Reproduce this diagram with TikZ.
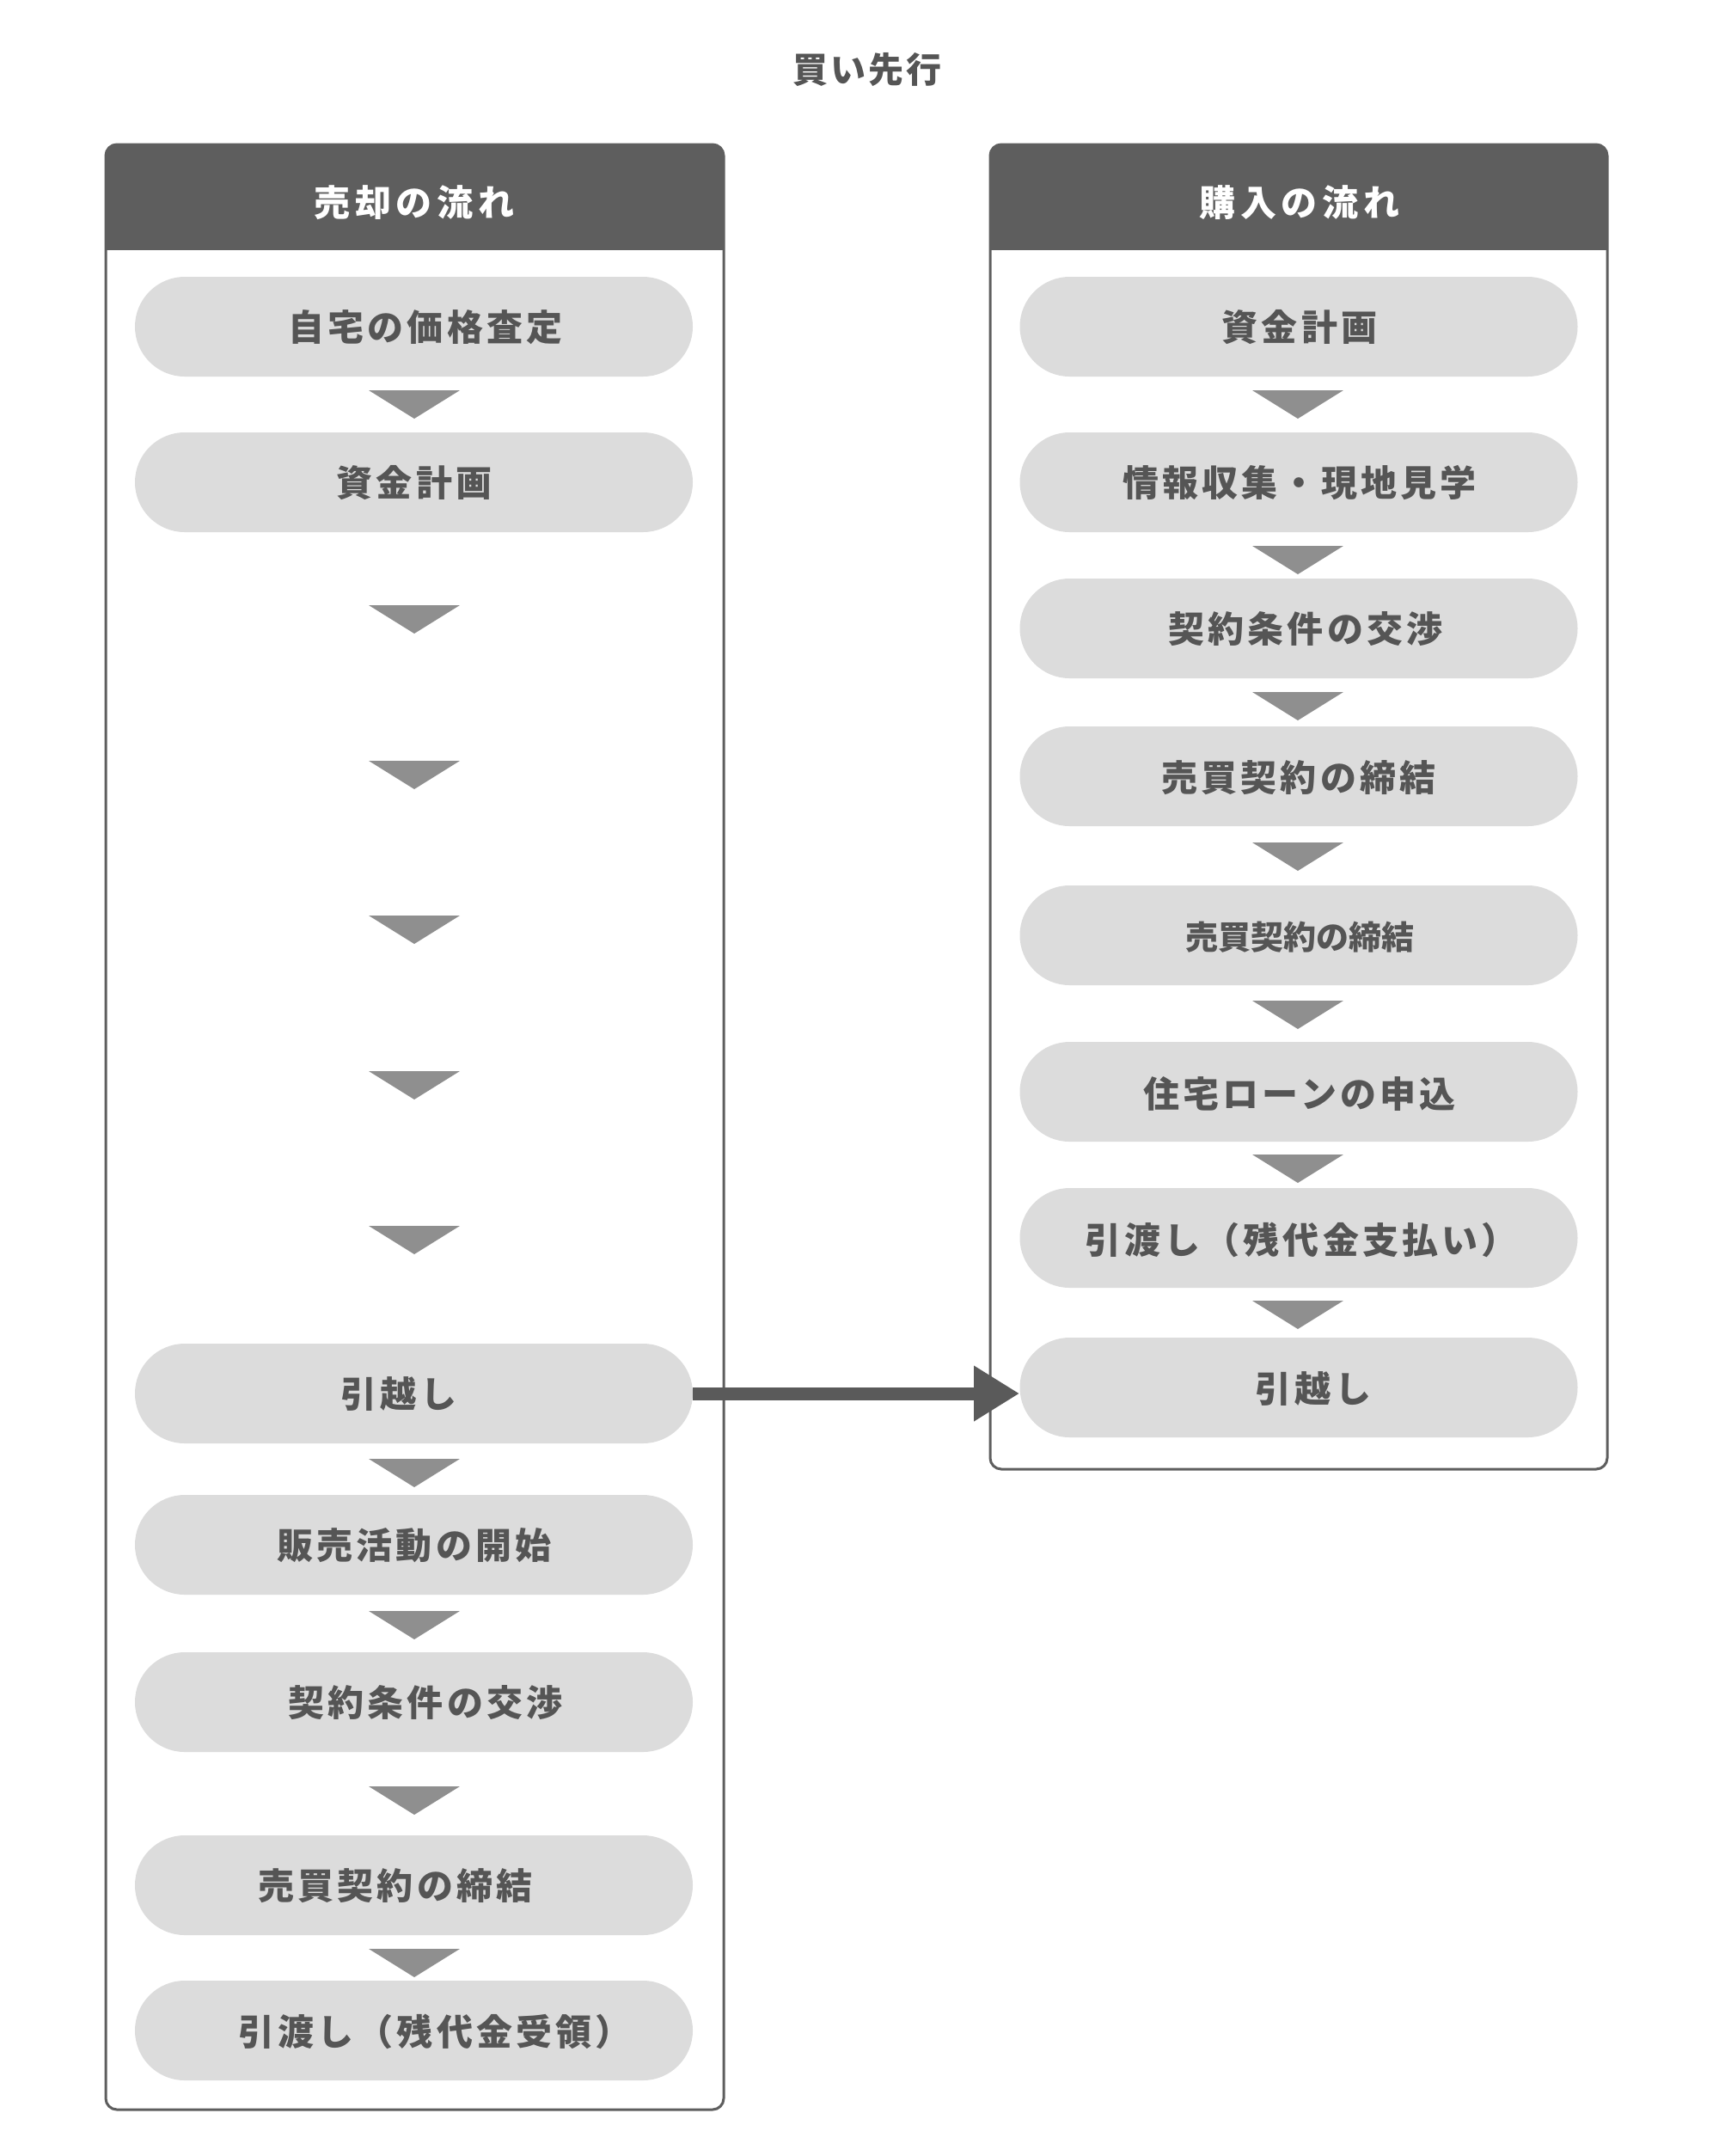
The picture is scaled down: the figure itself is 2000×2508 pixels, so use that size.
\documentclass[tikz,border=0pt]{standalone}
\usepackage{fontspec}
\newfontfamily\jpa{Noto Sans CJK JP}[LetterSpace=10]
\newfontfamily\jpb{Noto Sans CJK JP}[LetterSpace=14]
\newfontfamily\jpc{Noto Sans CJK JP}[LetterSpace=7]
\newfontfamily\jpd{Noto Sans CJK JP}
\usetikzlibrary{shapes.misc,arrows.meta}
\definecolor{dk}{HTML}{5E5E5E}
\definecolor{pillc}{HTML}{DCDCDC}
\definecolor{txt}{HTML}{555555}
\definecolor{tric}{HTML}{8F8F8F}
\definecolor{arr}{HTML}{5A5A5A}
\newcommand{\downtri}[2]{\fill[tric] (#1-53,#2) -- (#1+53,#2) -- (#1,#2+33) -- cycle;}
\begin{document}
\begin{tikzpicture}[x=0.5pt,y=-0.5pt,
  pill/.style={rounded rectangle, fill=pillc, minimum width=324.5pt, minimum height=58pt, inner sep=0pt},
  ptext/.style={text=txt, font=\jpa\bfseries\fontsize{21}{25}\selectfont, inner sep=0pt},
  stext/.style={text=txt, font=\jpd\bfseries\fontsize{19}{23}\selectfont, inner sep=0pt},
  htext/.style={text=white, font=\jpb\bfseries\fontsize{21}{25}\selectfont, inner sep=0pt},
  ttext/.style={text=txt, font=\jpc\bfseries\fontsize{20.5}{24}\selectfont, inner sep=0pt},
  panel/.style={draw=dk, line width=1.5pt, rounded corners=6.5pt}]
\useasboundingbox[fill=white] (0,0) rectangle (2000,2508);

% title
\node[ttext] (title) at (1009,81) {買い先行};

% left panel
\begin{scope}
\clip[rounded corners=6.5pt] (123,168) rectangle (842,2454);
\fill[dk] (123,168) rectangle (842,291);
\end{scope}
\draw[panel] (123,168) rectangle (842,2454);
\node[htext] (hl) at (482,236) {売却の流れ};

% right panel
\begin{scope}
\clip[rounded corners=6.5pt] (1152,168) rectangle (1870,1709);
\fill[dk] (1152,168) rectangle (1870,291);
\end{scope}
\draw[panel] (1152,168) rectangle (1870,1709);
\node[htext] (hr) at (1512,236) {購入の流れ};

% left pills
\node[pill] (L1) at (481.5,380) {};
\node[pill] (L2) at (481.5,561) {};
\node[pill] (L3) at (481.5,1621) {};
\node[pill] (L4) at (481.5,1797) {};
\node[pill] (L5) at (481.5,1980) {};
\node[pill] (L6) at (481.5,2193) {};
\node[pill] (L7) at (481.5,2362) {};
\node[ptext] (L1t) at (495,381) {自宅の価格査定};
\node[ptext] (L2t) at (482,562) {資金計画};
\node[ptext] (L3t) at (464,1622) {引越し};
\node[ptext] (L4t) at (482,1798) {販売活動の開始};
\node[ptext] (L5t) at (495,1981) {契約条件の交渉};
\node[ptext] (L6t) at (460,2194) {売買契約の締結};
\node[ptext] (L7t) at (506,2363) {引渡し（残代金受領）};
\foreach \yy in {454,704,885,1065,1246,1426,1697,1874,2078,2267} {\downtri{482}{\yy}}

% right pills
\node[pill] (R1) at (1511,380) {};
\node[pill] (R2) at (1511,561) {};
\node[pill] (R3) at (1511,731) {};
\node[pill] (R4) at (1511,903) {};
\node[pill] (R5) at (1511,1088) {};
\node[pill] (R6) at (1511,1270) {};
\node[pill] (R7) at (1511,1440) {};
\node[pill] (R8) at (1511,1614) {};
\node[ptext] (R1t) at (1512,381) {資金計画};
\node[ptext] (R2t) at (1512,562) {情報収集・現地見学};
\node[ptext] (R3t) at (1519,732) {契約条件の交渉};
\node[ptext] (R4t) at (1511,905) {売買契約の締結};
\node[stext] (R5t) at (1512,1090) {売買契約の締結};
\node[ptext] (R6t) at (1512,1272) {住宅ローンの申込};
\node[ptext] (R7t) at (1514,1442) {引渡し（残代金支払い）};
\node[ptext] (R8t) at (1528,1616) {引越し};
\foreach \yy in {454,635,805,980,1164,1343,1513} {\downtri{1510}{\yy}}

% connector
\draw[arr, line width=7.5pt, -{Triangle[length=26.5pt,width=30.5pt]}]
  (L3.east) -- (L3.east -| R8.west);
\end{tikzpicture}
\end{document}
